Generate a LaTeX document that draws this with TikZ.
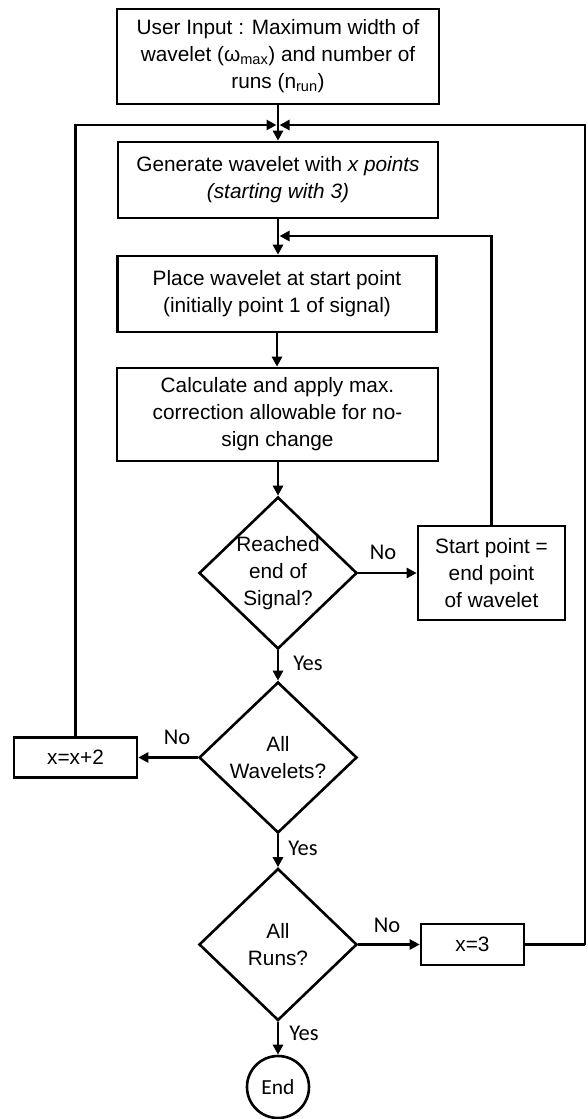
\documentclass[tikz,border=0pt]{standalone}
\usepackage{fontspec}
\setmainfont{Liberation Sans}
\newfontfamily\lblfont{Carlito}
\usetikzlibrary{shapes.geometric,arrows.meta}
\tikzset{
  txt/.style={font=\fontsize{20.8}{27}\selectfont},
  box/.style={draw, rectangle, line width=2.6pt, inner sep=0pt, align=center, txt},
  dia/.style={draw, diamond, line width=2.6pt, inner sep=0pt},
  dlabel/.style={align=center, txt},
  arr/.style={line width=2.6pt, -{Triangle[length=10pt,width=10pt]}},
  ln/.style={line width=2.6pt},
  lbl/.style={font=\lblfont\fontsize{22.5}{24}\selectfont, inner sep=0pt},
}
\begin{document}
\begin{tikzpicture}[x=1pt,y=-1pt]
\useasboundingbox (0,0) rectangle (588,1119);

\node[box, minimum width=322pt, minimum height=95pt] (in) at (278,56.5)
  {User Input : Maximum width of\\wavelet (ω\textsubscript{max}) and number of\\runs (n\textsubscript{run})};
\node[box, minimum width=320pt, minimum height=76pt] (gen) at (278,180)
  {Generate wavelet with \textit{x points}\\\textit{(starting with 3)}};
\node[box, minimum width=319pt, minimum height=76pt] (place) at (277,294)
  {Place wavelet at start point\\(initially point 1 of signal)};
\node[box, minimum width=321pt, minimum height=93pt] (calc) at (277.5,414.5)
  {Calculate and apply max.\\correction allowable for no-\\sign change};
\node[dia, minimum width=158pt, minimum height=152pt,
  label={[dlabel]center:Reached\\end of\\Signal?}] (d1) at (278,573) {};
\node[box, minimum width=147pt, minimum height=94pt] (sp) at (491.5,573)
  {Start point =\\end point\\of wavelet};
\node[dia, minimum width=158pt, minimum height=151pt,
  label={[dlabel]center:All\\Wavelets?}] (d2) at (278,757.5) {};
\node[box, minimum width=123pt, minimum height=40pt] (x2) at (75.5,757.5) {x=x+2};
\node[dia, minimum width=158pt, minimum height=152pt,
  label={[dlabel]center:All\\Runs?}] (d3) at (278,944.5) {};
\node[box, minimum width=103pt, minimum height=41pt] (x3) at (472.5,944.5) {x=3};
\node[draw, circle, line width=2.6pt, minimum size=62pt, inner sep=0pt,
  font=\lblfont\fontsize{21.5}{24}\selectfont] (end) at (278,1087) {End};

\coordinate (jl) at (276.5,125);
\coordinate (jr) at (279.5,125);
\coordinate (j2) at (279.5,236);
\coordinate (rc) at (585,944.5);

% main flow
\draw[arr] (in.south) -- (gen.north);
\draw[arr] (gen.south) -- (place.north -| gen.south);
\draw[arr] (place.south) -- (calc.north -| place.south);
\draw[arr] (calc.south -| d1.north) -- (d1.north);
\draw[arr] (d1.east) -- (sp.west);
\draw[arr] (d1.south) -- (d2.north);
\draw[arr] (d2.west) -- (x2.east);
\draw[arr] (d2.south) -- (d3.north);
\draw[arr] (d3.east) -- (x3.west);
\draw[arr] (d3.south) -- (end.north);

% loops
\draw[arr] (sp.north) |- (j2);
\draw[arr] (x2.north) |- (jl);
\draw[ln] (x3.east) -- (rc);
\draw[arr] (rc) |- (jr);

% labels
\node[lbl] (no1) at (383,552) {No};
\node[lbl] (yes1) at (308,663) {Yes};
\node[lbl] (no2) at (177,737) {No};
\node[lbl] (yes2) at (303,848) {Yes};
\node[lbl] (no3) at (387,925) {No};
\node[lbl] (yes3) at (304,1033) {Yes};
\end{tikzpicture}
\end{document}
